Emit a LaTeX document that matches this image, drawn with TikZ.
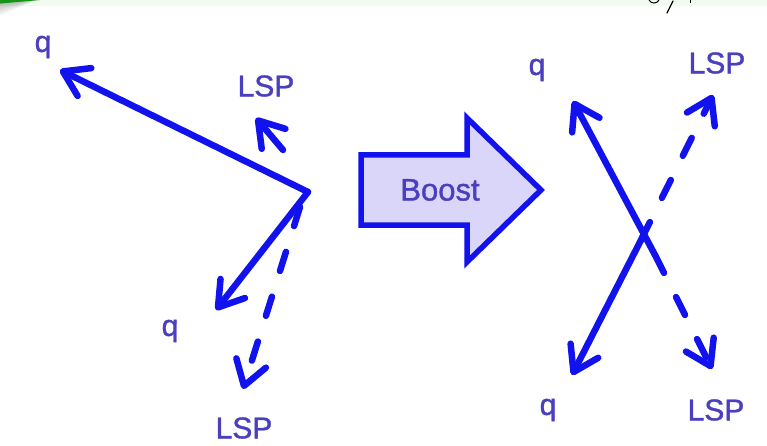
\documentclass[tikz,border=0pt]{standalone}
\usepackage{fontspec}
\setmainfont{Liberation Sans}
\newfontfamily\lblfont{Liberation Sans}[RawFeature={embolden=1.2}]
\usetikzlibrary{arrows.meta}
\definecolor{ray}{HTML}{1212EE}
\definecolor{lbl}{HTML}{4A3FBE}
\definecolor{boostfill}{HTML}{DAD6FA}
\definecolor{band}{HTML}{F1FBEF}
\definecolor{tab}{HTML}{17931A}
\tikzset{
  ray/.style={draw=ray, line width=6.5pt, line cap=round, line join=round,
    -{Straight Barb[length=24pt, width=31pt, line cap=round, line join=round]}},
  lsp/.style={ray, dash pattern=on 20pt off 27pt},
  tag/.style={text=lbl, font=\lblfont\fontsize{30}{30}\selectfont, inner sep=0pt},
}
\begin{document}
\begin{tikzpicture}[x=1pt, y=-1pt]
\useasboundingbox (0,0) rectangle (767,446);
\fill[white] (0,0) rectangle (767,446);
% header strip with tab
\fill[band] (0,0) rectangle (767,6);
\foreach \o in {1,...,10}{
  \fill[black, opacity=0.025] (0,0) -- (85+1.6*\o,0) arc[start angle=90, end angle=-90, x radius=6+1.2*\o, y radius=2+1.2*\o] -- (0,4+1.2*\o) -- cycle;
}
\fill[tab] (0,0) -- (80,0) arc[start angle=90, end angle=-90, x radius=5, y radius=1.8] -- (0,3.6) -- cycle;
\draw[black, line width=1.2pt, line cap=round] (667,13) -- (673,1);
\draw[black, line width=1pt] (649,0) .. controls (651,4) and (657,4) .. (659,0);
\draw[black, line width=1pt] (690,0) -- (690,3);

% before the boost
\coordinate (c1) at (308,192);
\coordinate (q1) at (60,70);
\coordinate (q2) at (216,310);
\coordinate (s1b) at (283,150);
\coordinate (s1) at (256,118);
\coordinate (s2b) at (300,207);
\coordinate (s2) at (243,389);
\draw[ray] (c1) -- (q1);
\draw[ray] (c1) -- (q2);
\draw[ray] (s1b) -- (s1);
\draw[lsp] (s2b) -- (s2);
\node[tag] (lq1) at (43,47) {q};
\node[tag] (ls1) at (266,86) {LSP};
\node[tag] (lq2) at (170,331) {q};
\node[tag] (ls2) at (244,428) {LSP};

% boost arrow
\draw[draw=ray, fill=boostfill, line width=5.5pt, line join=miter]
  (361,155) -- (467,155) -- (467,118) -- (541,190) -- (467,262) -- (467,225) -- (361,225) -- cycle;
\node[tag, font=\lblfont\fontsize{31}{31}\selectfont] (boost) at (440,190) {Boost};

% after the boost
\coordinate (a) at (641,240);
\coordinate (b) at (655,255);
\coordinate (q3) at (573,101);
\coordinate (q4) at (572,375);
\coordinate (s3) at (713,95);
\coordinate (s4) at (712,369);
\draw[ray] (b) -- (q3);
\draw[ray] (a) -- (q4);
\draw[lsp] (a) -- (s3);
\draw[lsp] (b) -- (s4);
\node[tag] (rq1) at (537,70) {q};
\node[tag] (rs1) at (717,63) {LSP};
\node[tag] (rq2) at (548,410) {q};
\node[tag] (rs2) at (716,410) {LSP};
\end{tikzpicture}
\end{document}
